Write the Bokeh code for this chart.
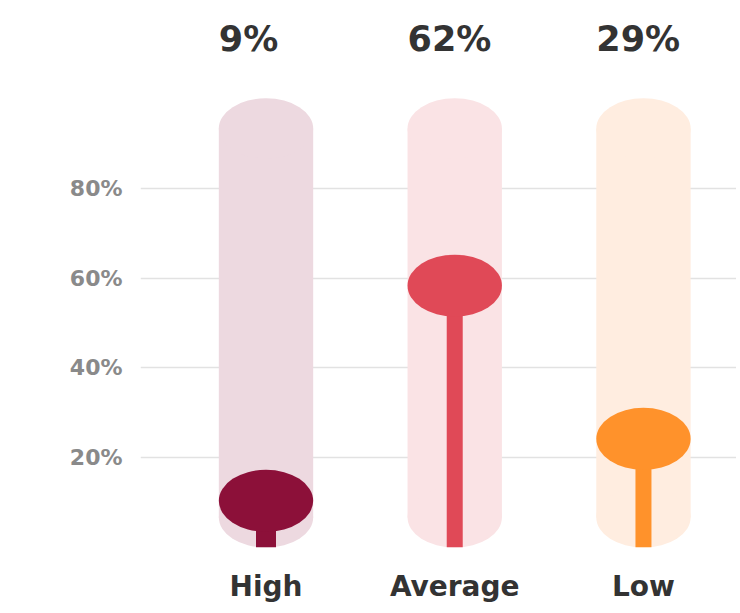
from bokeh.plotting import figure
from bokeh.models import Range1d, FixedTicker, ColumnDataSource
from bokeh.core.properties import value
from bokeh.embed import file_html
from bokeh.resources import INLINE

# ---- data ----
categories = ["High", "Average", "Low"]
shares = [9, 62, 29]                    # labels shown on top (%)
marker_levels = [10.4, 58.3, 24.2]      # where each knob sits on the axis (%)
y_ticks = [20, 40, 60, 80]

main_colors = ["#8C1039", "#E04957", "#FF922B"]
track_colors = ["#EDD9E0", "#FAE3E5", "#FFEDE0"]
stem_widths = [20, 16, 16]

xs = list(range(len(categories)))

p = figure(width=736, height=605, output_backend="svg", toolbar_location=None,
           x_range=Range1d(-0.665, 2.493), y_range=Range1d(0, 120),
           min_border_left=140, min_border_right=0, min_border_top=8,
           min_border_bottom=58)
p.outline_line_color = None
p.background_fill_color = "white"
p.border_fill_color = "white"

# track (pill) geometry
track_w = 0.5
cap_h = 13.4
src = ColumnDataSource(dict(x=xs, track=track_colors, main=main_colors,
                            lvl=marker_levels, zero=[0] * 3, sw=stem_widths,
                            lab=[f"{v}%" for v in shares],
                            lx=[x - track_w / 2 for x in xs]))

p.vbar(x="x", width=track_w, bottom=cap_h / 2, top=100 - cap_h / 2,
       fill_color="track", line_color=None, source=src)
p.ellipse(x="x", y=100 - cap_h / 2, width=track_w, height=cap_h,
          fill_color="track", line_color=None, source=src)
p.ellipse(x="x", y=cap_h / 2, width=track_w, height=cap_h,
          fill_color="track", line_color=None, source=src)

# stems
p.segment(x0="x", y0="zero", x1="x", y1="lvl", line_color="main",
          line_width="sw", line_cap="butt", source=src)
# knobs
p.ellipse(x="x", y="lvl", width=0.5, height=13.8, fill_color="main",
          line_color=None, source=src)

# top value labels
p.text(x="lx", y=113.2, text="lab", text_font=value("DejaVu Sans"),
       text_font_style="bold", text_font_size="35px", text_color="#333333",
       text_align="left", text_baseline="alphabetic", source=src)

# axes
p.xaxis.ticker = FixedTicker(ticks=xs)
p.xaxis.major_label_overrides = {x: c for x, c in zip(xs, categories)}
p.xaxis.axis_line_color = None
p.xaxis.major_tick_line_color = None
p.xaxis.minor_tick_line_color = None
p.xaxis.major_tick_out = 0
p.xaxis.major_label_standoff = 22
p.xaxis.major_label_text_font = "DejaVu Sans"
p.xaxis.major_label_text_font_style = "bold"
p.xaxis.major_label_text_font_size = "28px"
p.xaxis.major_label_text_color = "#333333"

p.yaxis.ticker = FixedTicker(ticks=y_ticks)
p.yaxis.major_label_overrides = {t: f"{t}%" for t in y_ticks}
p.yaxis.axis_line_color = None
p.yaxis.major_tick_line_color = None
p.yaxis.minor_tick_line_color = None
p.yaxis.major_tick_out = 0
p.yaxis.major_label_standoff = 18
p.yaxis.major_label_text_font = "DejaVu Sans"
p.yaxis.major_label_text_font_style = "bold"
p.yaxis.major_label_text_font_size = "22px"
p.yaxis.major_label_text_color = "#8a8a8a"

p.xgrid.grid_line_color = None
p.ygrid.ticker = FixedTicker(ticks=y_ticks)
p.ygrid.grid_line_color = "#e2e2e2"
p.ygrid.grid_line_width = 1.5
p.ygrid.level = "underlay"

open("out.html", "w").write(file_html(p, INLINE))
